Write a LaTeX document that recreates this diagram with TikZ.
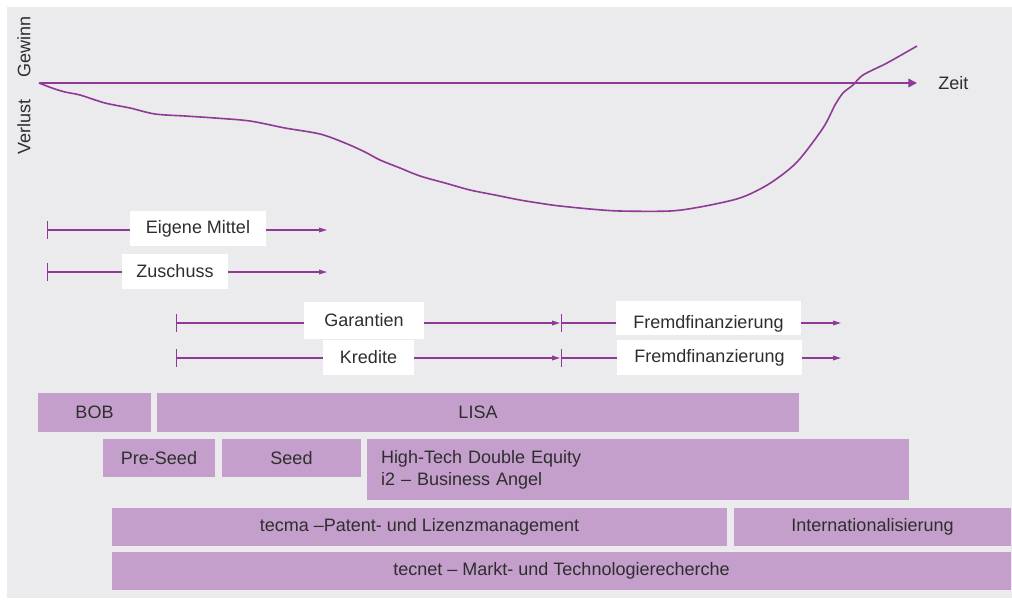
\documentclass[tikz,border=0pt]{standalone}
\usepackage{fontspec}
\setmainfont{Liberation Sans}
\usetikzlibrary{arrows.meta}
\definecolor{lila}{HTML}{8E3A96}
\definecolor{lilabox}{HTML}{C49FCB}
\definecolor{grau}{HTML}{EBEBED}
\definecolor{schrift}{HTML}{2E2E2E}
\begin{document}
\begin{tikzpicture}[x=0.75pt,y=-0.75pt,
  font=\fontsize{13.5}{16.5}\selectfont, text=schrift,
  spanne/.style={draw=lila,line width=0.9pt,{Bar[width=13.5pt]}-{Triangle[length=6pt,width=3.5pt]}},
  etikett/.style={fill=white,inner sep=0pt},
  phase/.style={fill=lilabox,inner sep=0pt}]
\useasboundingbox (0,0) rectangle (1012,601);
\fill[grau] (7,7) rectangle (1012,598);

% Achsen und Verlauf
\coordinate (ursprung) at (39,83);
\coordinate (zeitende) at (917,83);
\draw[lila,line width=1pt,-{Triangle[length=6.5pt,width=6.5pt]}] (ursprung) -- (zeitende);
\node[anchor=west,inner sep=0pt] (zeit) at (938,83) {Zeit};
\node[rotate=90] (gewinn) at (24,47) {Gewinn};
\node[rotate=90] (verlust) at (24,127) {Verlust};
\draw[lila,line width=1.2pt] plot[smooth,tension=0.5] coordinates {
  (39,83) (52,88) (65,92) (80,95) (105,103) (130,108) (155,114) (185,116)
  (215,118) (250,121) (285,128) (320,134) (345,143) (365,152) (380,160)
  (400,168) (420,176) (445,183) (470,190) (495,195) (520,200) (545,204)
  (560,206) (590,209) (620,211) (670,211) (700,207) (733,200) (750,194)
  (772,182) (797,162) (823,128) (835,105) (843,93) (853,85) (863,75)
  (887,63) (917,46)};

% Finanzierung
\coordinate (em0) at (47,230);  \coordinate (em1) at (327,230);
\coordinate (zu0) at (47,272);  \coordinate (zu1) at (327,272);
\coordinate (ga0) at (176,323); \coordinate (ga1) at (560,323);
\coordinate (kr0) at (176,358); \coordinate (kr1) at (560,358);
\coordinate (fa0) at (561,323); \coordinate (fa1) at (841,323);
\coordinate (fb0) at (561,358); \coordinate (fb1) at (841,358);
\draw[spanne] (em0) -- (em1);
\draw[spanne] (zu0) -- (zu1);
\draw[spanne] (ga0) -- (ga1);
\draw[spanne] (kr0) -- (kr1);
\draw[spanne] (fa0) -- (fa1);
\draw[spanne] (fb0) -- (fb1);
\node[etikett,minimum width=102pt,minimum height=26.25pt] (eigen) at (198,228.5) {Eigene Mittel};
\node[etikett,minimum width=79.5pt,minimum height=26.25pt] (zuschuss) at (175,271.5) {Zuschuss};
\node[etikett,minimum width=90pt,minimum height=27.75pt] (garantien) at (364,320.5) {Garantien};
\node[etikett,minimum width=68.25pt,minimum height=26.25pt] (kredite) at (368.5,357.5) {Kredite};
\node[etikett,anchor=base,text height=20.25pt,text depth=5.25pt,minimum width=138.75pt] (fremda) at (708.5,328) {Fremdfinanzierung};
\node[etikett,minimum width=138.75pt,minimum height=26.25pt] (fremdb) at (709.5,357.5) {Fremdfinanzierung};

% Programme
\node[phase,minimum width=84.75pt,minimum height=29.25pt] (bob) at (94.5,412.5) {BOB};
\node[phase,minimum width=481.5pt,minimum height=29.25pt] (lisa) at (478,412.5) {LISA};
\node[phase,minimum width=84pt,minimum height=28.5pt] (preseed) at (159,458) {Pre-Seed};
\node[phase,minimum width=104.25pt,minimum height=28.5pt] (seed) at (291.5,458) {Seed};
\node[phase,minimum height=45.75pt,inner xsep=10.5pt,text width=385.5pt,align=left] (hightech) at (638,469.5)
  {High-Tech Double Equity\\i2 – Business Angel};
\node[phase,minimum width=461.25pt,minimum height=28.5pt] (tecma) at (419.5,527) {tecma –Patent- und Lizenzmanagement};
\node[phase,minimum width=207.75pt,minimum height=28.5pt] (intern) at (872.5,527) {Internationalisierung};
\node[phase,minimum width=674.25pt,minimum height=28.5pt] (tecnet) at (561.5,571) {tecnet – Markt- und Technologierecherche};
\end{tikzpicture}
\end{document}
